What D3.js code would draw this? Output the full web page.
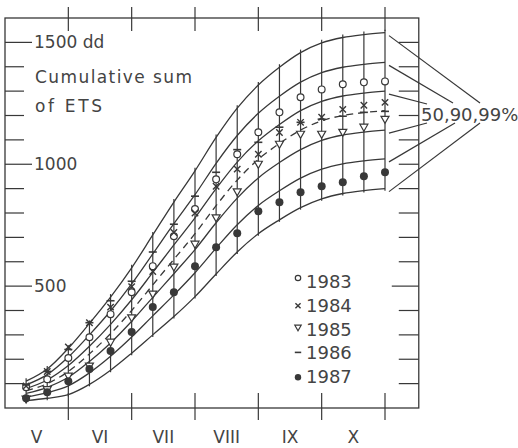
<!DOCTYPE html>
<html>
<head>
<meta charset="utf-8">
<script src="https://cdn.jsdelivr.net/npm/d3@7/dist/d3.min.js"></script>
<style>
body { margin: 0; background: #fff; }
text { font-family: "DejaVu Sans", sans-serif; fill: #444; }
</style>
</head>
<body>
<svg id="chart" width="518" height="448"></svg>
<script>
// ten-day periods (dekads), May 10 .. Oct 31
const dekads = ["10.V","20.V","31.V","10.VI","20.VI","30.VI","10.VII","20.VII","31.VII",
	"10.VIII","20.VIII","31.VIII","10.IX","20.IX","30.IX","10.X","20.X","31.X"];
const months = ["V","VI","VII","VIII","IX","X"];
const yTicks = [100,200,300,400,500,600,700,800,900,1000,1100,1200,1300,1400,1500];
const yLabels = [500,1000,1500];

// probability curves (dd)
const u99 = [110,160,245,347,455,575,710,845,973,1110,1230,1325,1398,1458,1498,1520,1532,1540];
const u90 = [95,137,209,300,398,509,632,756,875,1004,1118,1209,1279,1337,1376,1398,1410,1418];
const u50 = [80,115,174,253,343,444,556,669,780,900,1009,1096,1163,1220,1258,1280,1292,1300];
const med = [70,100,150,222,305,400,505,610,715,830,935,1020,1085,1140,1178,1200,1212,1220];
const l50 = [60,85,126,191,267,356,454,551,650,760,861,944,1007,1060,1098,1120,1132,1140];
const l90 = [45,63,91,144,212,291,378,464,555,656,752,831,891,943,980,1002,1014,1022];
const l99 = [30,40,55,97,155,225,300,375,457,550,640,715,772,822,858,880,892,900];

// observed years
const y1983 = [85,118,205,290,385,475,582,705,816,938,1041,1131,1213,1275,1307,1328,1336,1340];
const y1984 = [90,150,250,350,414,498,560,720,800,910,980,1041,1130,1172,1193,1225,1242,1254];
const y1985 = [37,75,131,172,270,370,467,578,672,780,887,1000,1082,1123,1123,1131,1152,1184];
const y1986 = [95,150,240,350,440,520,640,754,869,967,1060,1090,1152,1172,1185,1197,1213,1217];
const y1987 = [40,65,110,160,234,312,414,475,582,660,717,807,844,885,910,926,951,967];

const years = [
	{name: "1983", sym: "circle", values: y1983},
	{name: "1984", sym: "cross", values: y1984},
	{name: "1985", sym: "tri", values: y1985},
	{name: "1986", sym: "dash", values: y1986},
	{name: "1987", sym: "dot", values: y1987}
];

const ink = "#383838";
const svg = d3.select("#chart");

// x in dekads from May 1 (0) ; month boundaries every 3
let x = d3.scaleLinear().domain([0, 18]).range([5, 385]);
let y = d3.scaleLinear().domain([0, 1600]).range([408, 18]);
let xOf = i => x(i + 1);

let fLeft = x(0), fRight = x(19.6), fTop = y(1600), fBottom = y(0);

// frame
svg.append("rect")
	.attr("x", fLeft).attr("y", fTop)
	.attr("width", fRight - fLeft).attr("height", fBottom - fTop)
	.attr("fill", "none").attr("stroke", ink).attr("stroke-width", 1.3);

// left / right ticks
yTicks.forEach(function(v) {
	let major = yLabels.indexOf(v) >= 0;
	svg.append("line")
		.attr("x1", fLeft).attr("x2", fLeft + (major ? 27 : 19))
		.attr("y1", y(v)).attr("y2", y(v))
		.attr("stroke", ink).attr("stroke-width", 1.2);
	svg.append("line")
		.attr("x1", fRight).attr("x2", fRight - (v == 500 ? 27 : 20))
		.attr("y1", y(v)).attr("y2", y(v))
		.attr("stroke", ink).attr("stroke-width", 1.2);
});
svg.selectAll("text.ylab")
	.data(yLabels)
	.enter().append("text")
	.attr("class", "ylab")
	.attr("x", fLeft + 29)
	.attr("y", d => y(d) + 6)
	.style("font-size", "17px")
	.text(d => d == 1500 ? "1500 dd" : d);

svg.append("text").attr("x", 35).attr("y", 83)
	.attr("textLength", 157).attr("lengthAdjust", "spacing")
	.style("font-size", "17px").text("Cumulative sum");
svg.append("text").attr("x", 35).attr("y", 112)
	.attr("textLength", 67).attr("lengthAdjust", "spacing")
	.style("font-size", "17px").text("of ETS");

// month ticks top & bottom
[3,6,9,12,15,18].forEach(function(m) {
	svg.append("line")
		.attr("x1", x(m)).attr("x2", x(m))
		.attr("y1", fTop - 11).attr("y2", fTop + 13)
		.attr("stroke", ink).attr("stroke-width", 1.2);
	svg.append("line")
		.attr("x1", x(m)).attr("x2", x(m))
		.attr("y1", fBottom - 15).attr("y2", fBottom + 12)
		.attr("stroke", ink).attr("stroke-width", 1.2);
});
svg.selectAll("text.month")
	.data(months)
	.enter().append("text")
	.attr("class", "month")
	.attr("x", (d, i) => x(i * 3 + 1.5))
	.attr("y", 443)
	.attr("text-anchor", "middle")
	.style("font-size", "17px")
	.text(d => d);

// vertical range bars
svg.selectAll("line.range")
	.data(dekads)
	.enter().append("line")
	.attr("class", "range")
	.attr("x1", (d, i) => xOf(i)).attr("x2", (d, i) => xOf(i))
	.attr("y1", (d, i) => y(l99[i]) + 2).attr("y2", (d, i) => y(u99[i]) - 3)
	.attr("stroke", ink).attr("stroke-width", 1.2);

// probability curves
let line = d3.line()
	.x((d, i) => xOf(i))
	.y(d => y(d))
	.curve(d3.curveMonotoneX);

[u99, u90, u50, l50, l90, l99].forEach(function(c) {
	svg.append("path").attr("d", line(c))
		.attr("fill", "none").attr("stroke", ink).attr("stroke-width", 1.3);
});
svg.append("path").attr("d", line(med))
	.attr("fill", "none").attr("stroke", ink).attr("stroke-width", 1.3)
	.attr("stroke-dasharray", "7,5");

// markers
function drawSymbol(g, sym, cx, cy, s) {
	if (sym == "circle") {
		g.append("circle").attr("cx", cx).attr("cy", cy).attr("r", 3.4 * s)
			.attr("fill", "#fff").attr("stroke", ink).attr("stroke-width", 1.2);
	} else if (sym == "cross") {
		let r = 3.2 * s;
		g.append("path").attr("d", "M" + (cx - r) + "," + (cy - r) + "L" + (cx + r) + "," + (cy + r) +
			"M" + (cx - r) + "," + (cy + r) + "L" + (cx + r) + "," + (cy - r))
			.attr("stroke", ink).attr("stroke-width", 1.4);
	} else if (sym == "tri") {
		let r = 4 * s;
		g.append("path").attr("d", "M" + (cx - r) + "," + (cy - r * 0.75) + "L" + (cx + r) + "," + (cy - r * 0.75) +
			"L" + cx + "," + (cy + r) + "Z")
			.attr("fill", "#fff").attr("stroke", ink).attr("stroke-width", 1.2);
	} else if (sym == "dash") {
		g.append("line").attr("x1", cx - 4 * s).attr("x2", cx + 4 * s)
			.attr("y1", cy).attr("y2", cy)
			.attr("stroke", ink).attr("stroke-width", 1.6);
	} else {
		g.append("circle").attr("cx", cx).attr("cy", cy).attr("r", 4 * s).attr("fill", ink);
	}
}

let marks = svg.append("g");
years.forEach(function(yr) {
	yr.values.forEach(function(v, i) {
		drawSymbol(marks, yr.sym, xOf(i), y(v), 1);
	});
});

// legend
let legend = svg.append("g");
years.forEach(function(yr, i) {
	let base = 288 + i * 23.8;
	let off = {circle: -10, cross: -6, tri: -8, dash: -7, dot: -6}[yr.sym];
	drawSymbol(legend, yr.sym, 298, base + off, 0.8);
	legend.append("text").attr("x", 306).attr("y", base)
		.style("font-size", "18px").text(yr.name);
});

// 50,90,99 % annotation
svg.append("text").attr("x", 421).attr("y", 121)
	.style("font-size", "18px").text("50,90,99%");
let ends = [
	[u99, 480, 103], [u90, 453, 103], [u50, 427, 104],
	[l50, 427, 123], [l90, 455, 123], [l99, 480, 123]
];
ends.forEach(function(e) {
	let c = e[0];
	svg.append("line")
		.attr("x1", xOf(17) + 4).attr("y1", y(c[17]) + 3)
		.attr("x2", e[1]).attr("y2", e[2])
		.attr("stroke", ink).attr("stroke-width", 1.2);
});
</script>
</body>
</html>
